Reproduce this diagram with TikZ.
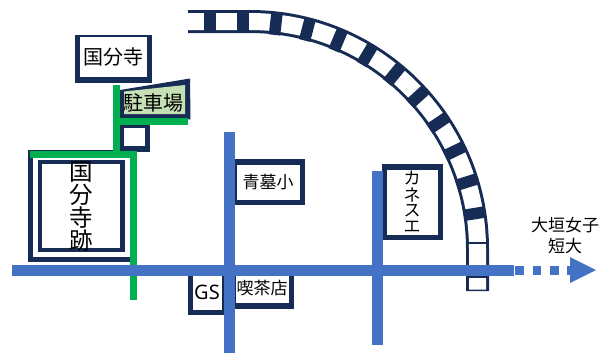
\documentclass[tikz,border=0pt]{standalone}
\usepackage{fontspec}
\setmainfont{Noto Sans CJK JP}
\newfontfamily\latinlabel{Noto Sans}
\definecolor{navy}{HTML}{172C55}
\definecolor{roadblue}{HTML}{4472C4}
\definecolor{greenline}{HTML}{00B050}
\definecolor{parking}{HTML}{C5E0B4}
\tikzset{
  frameouter/.style={fill=navy,draw=none},
  frameinner/.style={fill=white,draw=none},
  road/.style={draw=roadblue,line width=11.5pt},
  roaddash/.style={fill=roadblue,draw=none},
  walk/.style={draw=greenline,line width=7pt},
  tie/.style={draw=navy,line width=11.5pt},
  thintie/.style={draw=navy,line width=2.5pt},
  lbl/.style={inner sep=0pt,text=black,align=center},
  lbla/.style={lbl,font=\fontsize{20}{20}\selectfont},
  lblb/.style={lbl,font=\fontsize{17}{20}\selectfont},
  lblc/.style={lbl,font=\fontsize{23.5}{25}\selectfont},
  lbld/.style={lbl,font=\fontsize{17}{17}\selectfont},
  lble/.style={lbl,font=\latinlabel\fontsize{20}{22}\selectfont},
}
\newcommand{\rimbox}[8]{%
  \fill[frameouter] (#1,#3) rectangle (#2,#4);
  \fill[frameinner] (#5,#7) rectangle (#6,#8);}
\begin{document}
\begin{tikzpicture}[x=1pt,y=-1pt]
\useasboundingbox (0,0) rectangle (610,354);
% railway
\draw[navy,line width=23pt] (188,21.5) -- (250,21.5) arc[start angle=-90,end angle=0,radius=227.5] -- (477.5,291);
\draw[white,line width=17pt] (187,21.5) -- (250,21.5) arc[start angle=-90,end angle=0,radius=227.5] -- (477.5,289.5);
\draw[tie] (210,10) -- (210,33);
\draw[tie] (243,10) -- (243,33);
\foreach \a in {6.5,14.6,22.8,31,39.4,47.6,56,64.2,72.6,80.8}
  \draw[tie] ({250+216.5*sin(\a)},{250-216.5*cos(\a)}) -- ({250+238.5*sin(\a)},{250-238.5*cos(\a)});
\draw[thintie] (466,243) -- (489,243);
\draw[thintie] (466,277) -- (489,277);
% buildings
\rimbox{75}{152}{35}{83}{80}{147}{37}{77}
\fill[frameouter] (120,90) -- (190,78.5) -- (190.5,119.5) -- (120,118) -- cycle;
\fill[parking] (124,91.5) -- (185,85) -- (185,114) -- (124,114) -- cycle;
\rimbox{120}{150}{125}{152}{124}{145}{128}{146}
\rimbox{28}{133}{150}{262}{33}{130}{155}{257}
\rimbox{38}{125}{160}{252}{42}{120}{164}{248}
\rimbox{235}{305}{159}{205}{237}{300}{165}{200}
\rimbox{188}{224}{270}{315}{193}{222}{270}{310}
\rimbox{235}{294}{270}{309}{236}{289}{270}{303}
\rimbox{382}{443}{164}{240}{387}{438}{170}{235}
% walking route
\draw[walk] (116.5,85) -- (116.5,154.5);
\draw[walk] (113,121) -- (188,121);
\draw[walk] (30,154.5) -- (133.5,154.5) -- (133.5,300);
% roads
\draw[road] (229.5,132) -- (229.5,353);
\draw[road] (377.5,171) -- (377.5,345);
\draw[road] (12,270.5) -- (514,270.5);
\fill[roaddash] (515,266) rectangle (524,275);
\fill[roaddash] (533,266) rectangle (541,275);
\fill[roaddash] (550,266) rectangle (559,275);
\fill[roaddash] (567,266) rectangle (571,275);
\fill[roaddash] (570,257) -- (596,270) -- (570,283) -- cycle;
% labels
\node[lbla] (kokubunji) at (113,57) {国分寺};
\node[lbla] (chusha) at (153,103) {駐車場};
\node[lblc] (ato1) at (81,172) {国};
\node[lblc] (ato2) at (81,195) {分};
\node[lblc] (ato3) at (81,218) {寺};
\node[lblc] (ato4) at (81,241) {跡};
\node[lblb] (aohaka) at (268,182) {青墓小};
\node[lble] (gs) at (207,292) {GS};
\node[lblb] (kissa) at (262,288) {喫茶店};
\node[lbld] (ka) at (412,178) {カ};
\node[lbld] (ne) at (412,195) {ネ};
\node[lbld] (su) at (412,211) {ス};
\node[lbld] (e) at (412,227) {エ};
\node[lblb] (oogaki) at (565,225) {大垣女子};
\node[lblb] (tandai) at (565,246) {短大};
\end{tikzpicture}
\end{document}
